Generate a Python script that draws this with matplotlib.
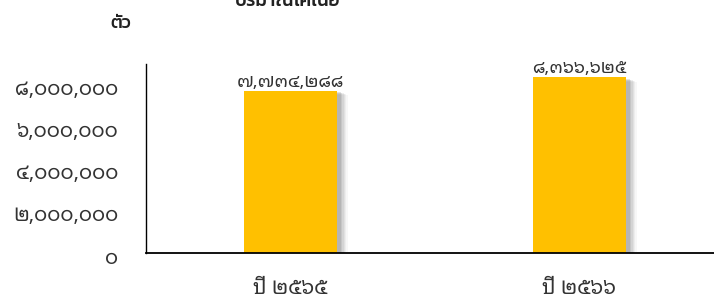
import matplotlib
matplotlib.use("Agg")
import matplotlib.pyplot as plt
import matplotlib.patheffects as pe
import matplotlib.transforms as mtransforms

categories = ["ปี ๒๕๖๕", "ปี ๒๕๖๖"]
values = [7734288, 8366625]
value_labels = ["๗,๗๓๔,๒๘๘", "๘,๓๖๖,๖๒๕"]
yticks = [0, 2000000, 4000000, 6000000, 8000000]
ytick_labels = ["๐", "๒,๐๐๐,๐๐๐", "๔,๐๐๐,๐๐๐", "๖,๐๐๐,๐๐๐", "๘,๐๐๐,๐๐๐"]
title = "ปริมาณโคเนื้อ"
unit = "ตัว"

NUMFONT = ["Noto Sans Thai Looped", "DejaVu Sans"]
THFONT = ["Kanit", "DejaVu Sans"]

fig = plt.figure(figsize=(7.14, 3.02), dpi=100)
ax = fig.add_axes([146/714, 49/302, 578/714, 189/302])

x = list(range(len(categories)))
shadow = [pe.SimplePatchShadow(offset=(o, -o*0.4), shadow_rgbFace="#808080", alpha=a)
          for o, a in [(8, 0.06), (7, 0.08), (6, 0.1), (5, 0.13), (4, 0.17), (3, 0.22)]] + [pe.Normal()]
bars = ax.bar(x, values, width=0.32, color="#FFC000", zorder=2)
for b in bars:
    b.set_path_effects(shadow)

ax.set_xlim(-0.5, 1.5)
ax.set_ylim(0, 9000000)
ax.set_yticks(yticks)
ax.set_yticklabels(ytick_labels, family=NUMFONT, fontsize=14.5, color="#333333")
ax.set_xticks(x)
ax.set_xticklabels(categories, family=NUMFONT, fontsize=15, color="#333333")
ax.tick_params(axis="both", length=0)
ax.tick_params(axis="y", pad=20)
ax.tick_params(axis="x", pad=18)
off = mtransforms.ScaledTranslation(0, -3/100, fig.dpi_scale_trans)
for lbl in ax.get_yticklabels():
    lbl.set_transform(lbl.get_transform() + off)

for s in ["top", "right"]:
    ax.spines[s].set_visible(False)
ax.spines["left"].set_linewidth(1.0)
ax.spines["bottom"].set_linewidth(1.3)

for xi, v, lab in zip(x, values, value_labels):
    ax.annotate(lab, (xi, v), xytext=(0, 0), textcoords="offset points",
                ha="center", va="bottom", family=NUMFONT, fontsize=13, color="#333333")

fig.text(288/714, 1 - 10/302, title, ha="center", va="bottom", family=THFONT,
         fontsize=13.5, fontweight="medium", color="#222222")
fig.text(110/714, 1 - 32/302, unit, ha="left", va="bottom", family=THFONT,
         fontsize=13, fontweight="medium", color="#222222")

fig.savefig("out.png", dpi=100)
